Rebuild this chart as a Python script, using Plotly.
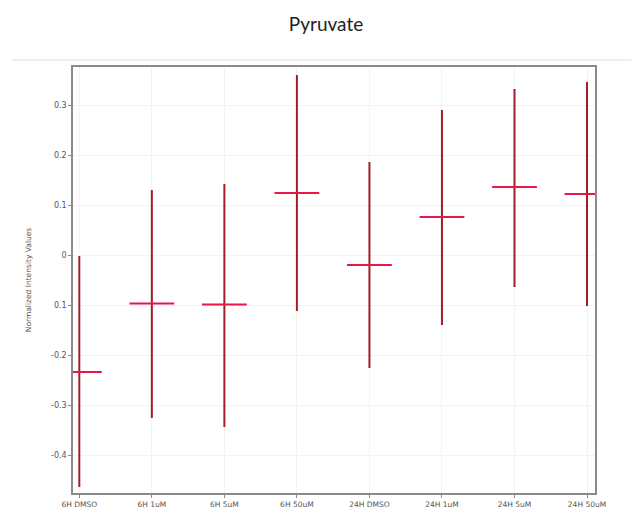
import plotly.graph_objects as go

categories = ["6H DMSO", "6H 1uM", "6H 5uM", "6H 50uM", "24H DMSO", "24H 1uM", "24H 5uM", "24H 50uM"]
means = [-0.234, -0.097, -0.099, 0.124, -0.020, 0.076, 0.136, 0.122]
highs = [-0.002, 0.130, 0.142, 0.360, 0.186, 0.290, 0.332, 0.346]
lows = [-0.464, -0.326, -0.344, -0.112, -0.226, -0.140, -0.064, -0.102]
ytick_vals = [0.3, 0.2, 0.1, 0, -0.1, -0.2, -0.3, -0.4]
ytick_text = ["0.3", "0.2", "0.1", "0", "0.1", "-0.2", "-0.3", "-0.4"]

fig = go.Figure()
fig.add_trace(go.Scatter(
    x=categories, y=means, mode="markers",
    marker=dict(symbol="line-ew", size=32, color="#e8174a",
                line=dict(color="#e8174a", width=2)),
    error_y=dict(type="data", symmetric=False,
                 array=[h - m for h, m in zip(highs, means)],
                 arrayminus=[m - l for m, l in zip(means, lows)],
                 color="#9e2027", thickness=2, width=0),
    showlegend=False, hoverinfo="skip",
))

fig.update_layout(
    width=633, height=511,
    margin=dict(l=73, r=38, t=67, b=18, autoexpand=False),
    paper_bgcolor="white", plot_bgcolor="white",
    title=dict(text="Pyruvate", x=0.515, xanchor="center", y=0.953, yanchor="middle",
               font=dict(family="Lato", size=19, color="#222")),
    font=dict(family="DejaVu Sans", size=8, color="#555"),
    shapes=[dict(type="line", xref="paper", yref="paper", x0=-0.117, x1=1.07,
                 y0=1.0165, y1=1.0165, line=dict(color="#e8e8e8", width=1.5))],
)
fig.update_xaxes(
    type="category", range=[-0.087, 7.11],
    showline=True, mirror=True, linecolor="#8a8a8a", linewidth=1.5,
    showgrid=True, gridcolor="#f3f3f3", gridwidth=1,
    ticks="outside", ticklen=3, tickcolor="#8a8a8a",
    tickfont=dict(size=7.5, color="#555"), automargin=False,
)
fig.update_yaxes(
    range=[-0.476, 0.376],
    tickvals=ytick_vals, ticktext=ytick_text,
    showline=True, mirror=True, linecolor="#8a8a8a", linewidth=1.5,
    showgrid=True, gridcolor="#f3f3f3", gridwidth=1, zeroline=False,
    ticks="outside", ticklen=3, tickcolor="#8a8a8a",
    tickfont=dict(size=8, color="#555"), automargin=False,
    title=dict(text="Normalized Intensity Values", font=dict(size=7.5, color="#555"), standoff=18),
)

fig.write_html("out.html", config={"displayModeBar": False},
               post_script="document.body.style.margin='0';document.body.style.overflow='hidden';")
